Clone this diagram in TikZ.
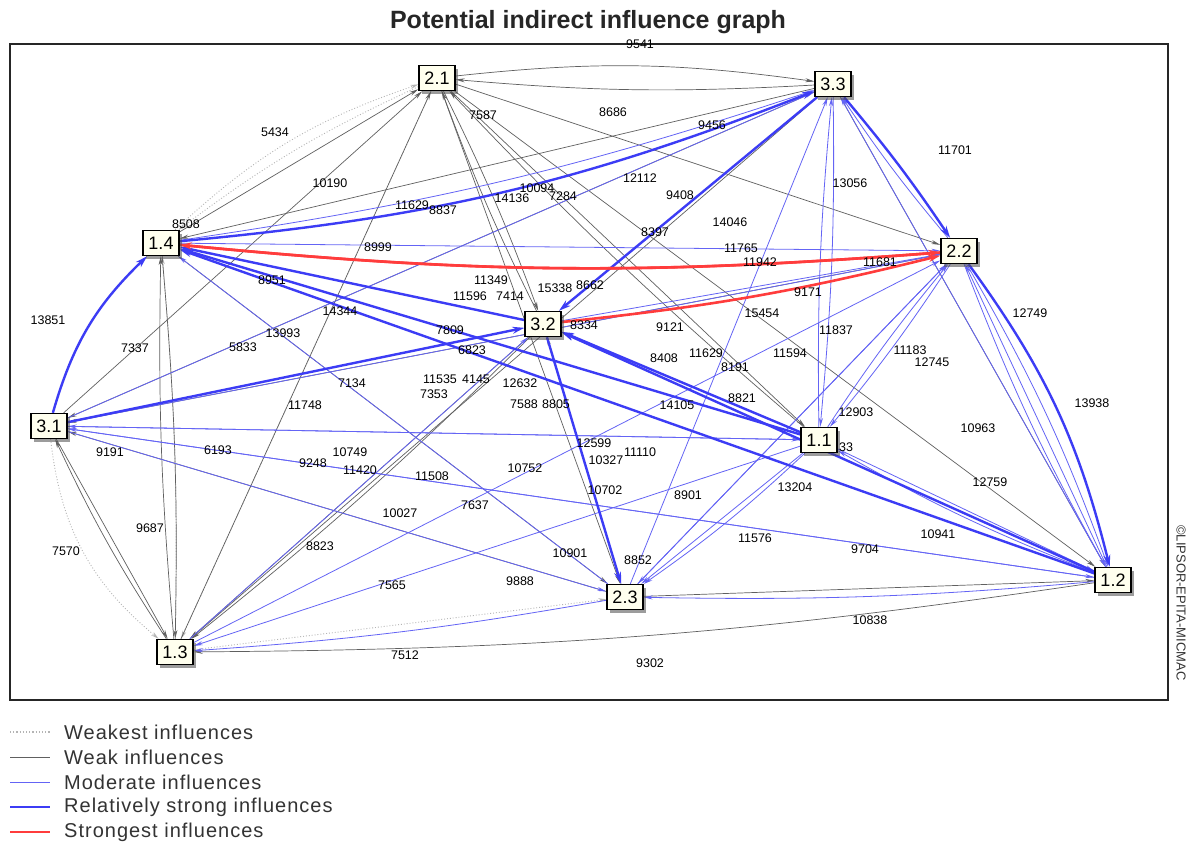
\documentclass[tikz,border=0pt]{standalone}
\usepackage{fontspec}
\setmainfont{Liberation Sans}
\newfontfamily\legfont[LetterSpace=5]{Liberation Sans}
\usetikzlibrary{arrows.meta,shadows,backgrounds}
\definecolor{wkc}{HTML}{606060}
\definecolor{wstc}{HTML}{B4B4B4}
\definecolor{mdc}{HTML}{6464F5}
\definecolor{stc}{HTML}{3C3CF5}
\definecolor{sgc}{HTML}{FF3C3C}
\definecolor{boxfill}{HTML}{FFFFEE}
\tikzset{
  var/.style={draw=black, line width=1.4pt, fill=boxfill, minimum width=36pt, minimum height=25pt, inner sep=1pt,
    font=\fontsize{18}{18}\selectfont,
    drop shadow={shadow xshift=3pt, shadow yshift=-3pt, opacity=0.55, fill=black!70}},
  lab/.style={inner sep=0pt, font=\fontsize{12.5}{13}\selectfont},
  wst/.style={draw=wstc, line width=0.9pt, dotted, -{Stealth[length=8pt,width=4pt]}},
  wk/.style={draw=wkc, line width=0.7pt, -{Stealth[length=9pt,width=4pt]}},
  md/.style={draw=mdc, line width=0.8pt, -{Stealth[length=9pt,width=4pt]}},
  st/.style={draw=stc, line width=2.4pt, -{Stealth[length=12pt,width=7pt]}},
  sg/.style={draw=sgc, line width=2.6pt, -{Stealth[length=12pt,width=7pt]}},
  legtxt/.style={anchor=west, inner sep=0pt, font=\legfont\fontsize{20}{21}\selectfont, text=black!80}
}
\begin{document}
\begin{tikzpicture}[x=1pt,y=-1pt]
\useasboundingbox (0,0) rectangle (1195,844);

% title
\node[font=\bfseries\fontsize{25}{26}\selectfont, text=black!85] (title) at (588,22) {Potential indirect influence graph};

% variables
\node[var] (n21) at (437,78) {2.1};
\node[var] (n33) at (833,84) {3.3};
\node[var] (n14) at (161,243) {1.4};
\node[var] (n22) at (959,251) {2.2};
\node[var] (n32) at (543,324) {3.2};
\node[var] (n31) at (49,426) {3.1};
\node[var] (n11) at (819,440) {1.1};
\node[var] (n23) at (625,597) {2.3};
\node[var] (n12) at (1113,580) {1.2};
\node[var] (n13) at (175,652) {1.3};

\begin{scope}[on background layer]
\fill[white] (0,0) rectangle (1195,844);
\draw[line width=1.2pt, black!85] (10,44) rectangle (1168,700);

% weakest
\draw[wst] (n14) to[bend left=12] (n21);
\draw[wst] (n31) to[bend right=22] (n13);
\draw[wst] (n13) to[bend right=3] (n14);
\draw[wst] (n13) -- (n23);
\draw[wst] (n21) -- (n13);
\draw[wst] (n23) -- (n32);
\draw[wst] (n21) to[bend right=6] (n14);

% weak
\draw[wk] (n21) to[bend left=7] (n33);
\draw[wk] (n33) to[bend left=4] (n21);
\draw[wk] (n14) -- (n21);
\draw[wk] (n31) -- (n21);
\draw[wk] (n13) -- (n21);
\draw[wk] (n21) to[bend left=3] (n32);
\draw[wk] (n32) to[bend left=3] (n21);
\draw[wk] (n21) -- (n11);
\draw[wk] (n11) to[bend left=3] (n21);
\draw[wk] (n21) -- (n22);
\draw[wk] (n21) -- (n12);
\draw[wk] (n21) -- (n23);
\draw[wk] (n13) to[bend left=3] (n14);
\draw[wk] (n14) to[bend left=3] (n13);
\draw[wk] (n31) -- (n13);
\draw[wk] (n13) to[bend left=4] (n31);
\draw[wk] (n32) -- (n13);
\draw[wk] (n32) to[bend left=3] (n13);
\draw[wk] (n12) to[bend left=4] (n13);
\draw[wk] (n23) -- (n12);
\draw[wk] (n33) -- (n31);
\draw[wk] (n33) -- (n14);
\draw[wk] (n14) -- (n23);
\draw[wk] (n23) -- (n31);
\draw[wk] (n22) -- (n31);
\draw[wk] (n33) -- (n13);
\draw[wk] (n33) -- (n12);
\draw[wk] (n32) -- (n12);

% moderate
\draw[md] (n11) to[bend left=3] (n33);
\draw[md] (n33) to[bend left=3] (n11);
\draw[md] (n23) -- (n33);
\draw[md] (n12) -- (n33);
\draw[md] (n22) to[bend left=3] (n33);
\draw[md] (n31) -- (n33);
\draw[md] (n31) -- (n22);
\draw[md] (n11) to[bend left=3] (n22);
\draw[md] (n22) to[bend left=3] (n11);
\draw[md] (n23) -- (n22);
\draw[md] (n12) -- (n22);
\draw[md] (n22) to[bend right=4] (n12);
\draw[md] (n22) to[bend left=5] (n12);
\draw[md] (n22) -- (n23);
\draw[md] (n11) -- (n23);
\draw[md] (n11) to[bend left=4] (n23);
\draw[md] (n12) to[bend left=3] (n23);
\draw[md] (n31) -- (n12);
\draw[md] (n12) -- (n31);
\draw[md] (n31) -- (n23);
\draw[md] (n31) -- (n11);
\draw[md] (n11) -- (n31);
\draw[md] (n11) -- (n12);
\draw[md] (n12) to[bend left=4] (n11);
\draw[md] (n14) -- (n22);
\draw[md] (n13) -- (n32);
\draw[md] (n11) -- (n13);
\draw[md] (n23) to[bend left=3] (n13);
\draw[md] (n32) -- (n22);
\draw[md] (n23) -- (n14);
\draw[md] (n14) to[bend right=5] (n33);
\draw[md] (n13) -- (n22);

% relatively strong
\draw[st] (n14) to[bend right=8] (n33);
\draw[st] (n33) -- (n32);
\draw[st] (n33) to[bend left=3] (n22);
\draw[st] (n22) to[bend left=11] (n12);
\draw[st] (n31) to[bend left=15] (n14);
\draw[st] (n32) -- (n14);
\draw[st] (n11) -- (n14);
\draw[st] (n12) -- (n14);
\draw[st] (n31) -- (n32);
\draw[st] (n11) -- (n32);
\draw[st] (n12) -- (n32);
\draw[st] (n32) -- (n23);

% strongest
\draw[sg] (n22) to[bend left=5] (n14);
\draw[sg] (n14) to[bend right=5] (n22);
\draw[sg] (n32) to[bend right=4] (n22);
\end{scope}

% influence values
\foreach \x/\y/\t [count=\i] in {
 640/44/9541, 275/132/5434, 483/115/7587, 613/112/8686, 712/125/9456, 955/150/11701,
 330/183/10190, 850/183/13056, 640/178/12112, 537/188/10094, 563/196/7284, 512/198/14136,
 412/205/11629, 443/210/8837, 680/195/9408, 186/224/8508, 655/232/8397, 730/222/14046,
 378/247/8999, 741/248/11765, 760/262/11942, 880/262/11681, 272/280/8951, 808/292/9171,
 491/280/11349, 470/296/11596, 510/296/7414, 555/288/15338, 590/285/8662, 48/320/13851,
 340/311/14344, 762/313/15454, 584/325/8334, 670/327/9121, 836/330/11837, 135/348/7337,
 283/333/13993, 243/347/5833, 450/330/7809, 472/350/6823, 664/358/8408, 706/353/11629,
 735/367/8191, 790/353/11594, 910/350/11183, 932/362/12745, 1030/313/12749, 352/383/7134,
 305/405/11748, 440/379/11535, 434/394/7353, 476/379/4145, 520/383/12632, 524/404/7588,
 556/404/8805, 677/405/14105, 742/398/8821, 856/412/12903, 1092/403/13938, 978/428/10963,
 990/482/12759, 110/452/9191, 218/450/6193, 313/463/9248, 350/452/10749, 360/470/11420,
 432/476/11508, 525/468/10752, 594/443/12599, 606/460/10327, 640/452/11110, 605/490/10702,
 688/495/8901, 795/487/13204, 475/505/7637, 400/513/10027, 150/528/9687, 66/551/7570,
 320/546/8823, 570/553/10901, 638/560/8852, 755/538/11576, 865/549/9704, 938/534/10941,
 392/585/7565, 520/581/9888, 870/620/10838, 405/655/7512, 650/663/9302, 846/447/33}
  \node[lab] (val\i) at (\x,\y) {\t};

% copyright
\node[rotate=-90, inner sep=0pt, font=\fontsize{13}{13}\selectfont, text=black!80] (copy) at (1181,603) {©LIPSOR-EPITA-MICMAC};

% legend
\draw[wstc, line width=1.2pt, dotted] (10,732) -- (50,732);
\draw[wkc, line width=0.8pt] (10,757) -- (50,757);
\draw[mdc, line width=1pt] (10,782) -- (50,782);
\draw[stc, line width=2.4pt] (10,807) -- (50,807);
\draw[sgc, line width=2.6pt] (10,832) -- (50,832);
\node[legtxt] (lg1) at (64,732) {Weakest influences};
\node[legtxt] (lg2) at (64,757) {Weak influences};
\node[legtxt] (lg3) at (64,782) {Moderate influences};
\node[legtxt] (lg4) at (64,807) {Relatively strong influences};
\node[legtxt] (lg5) at (64,832) {Strongest influences};
\end{tikzpicture}
\end{document}
